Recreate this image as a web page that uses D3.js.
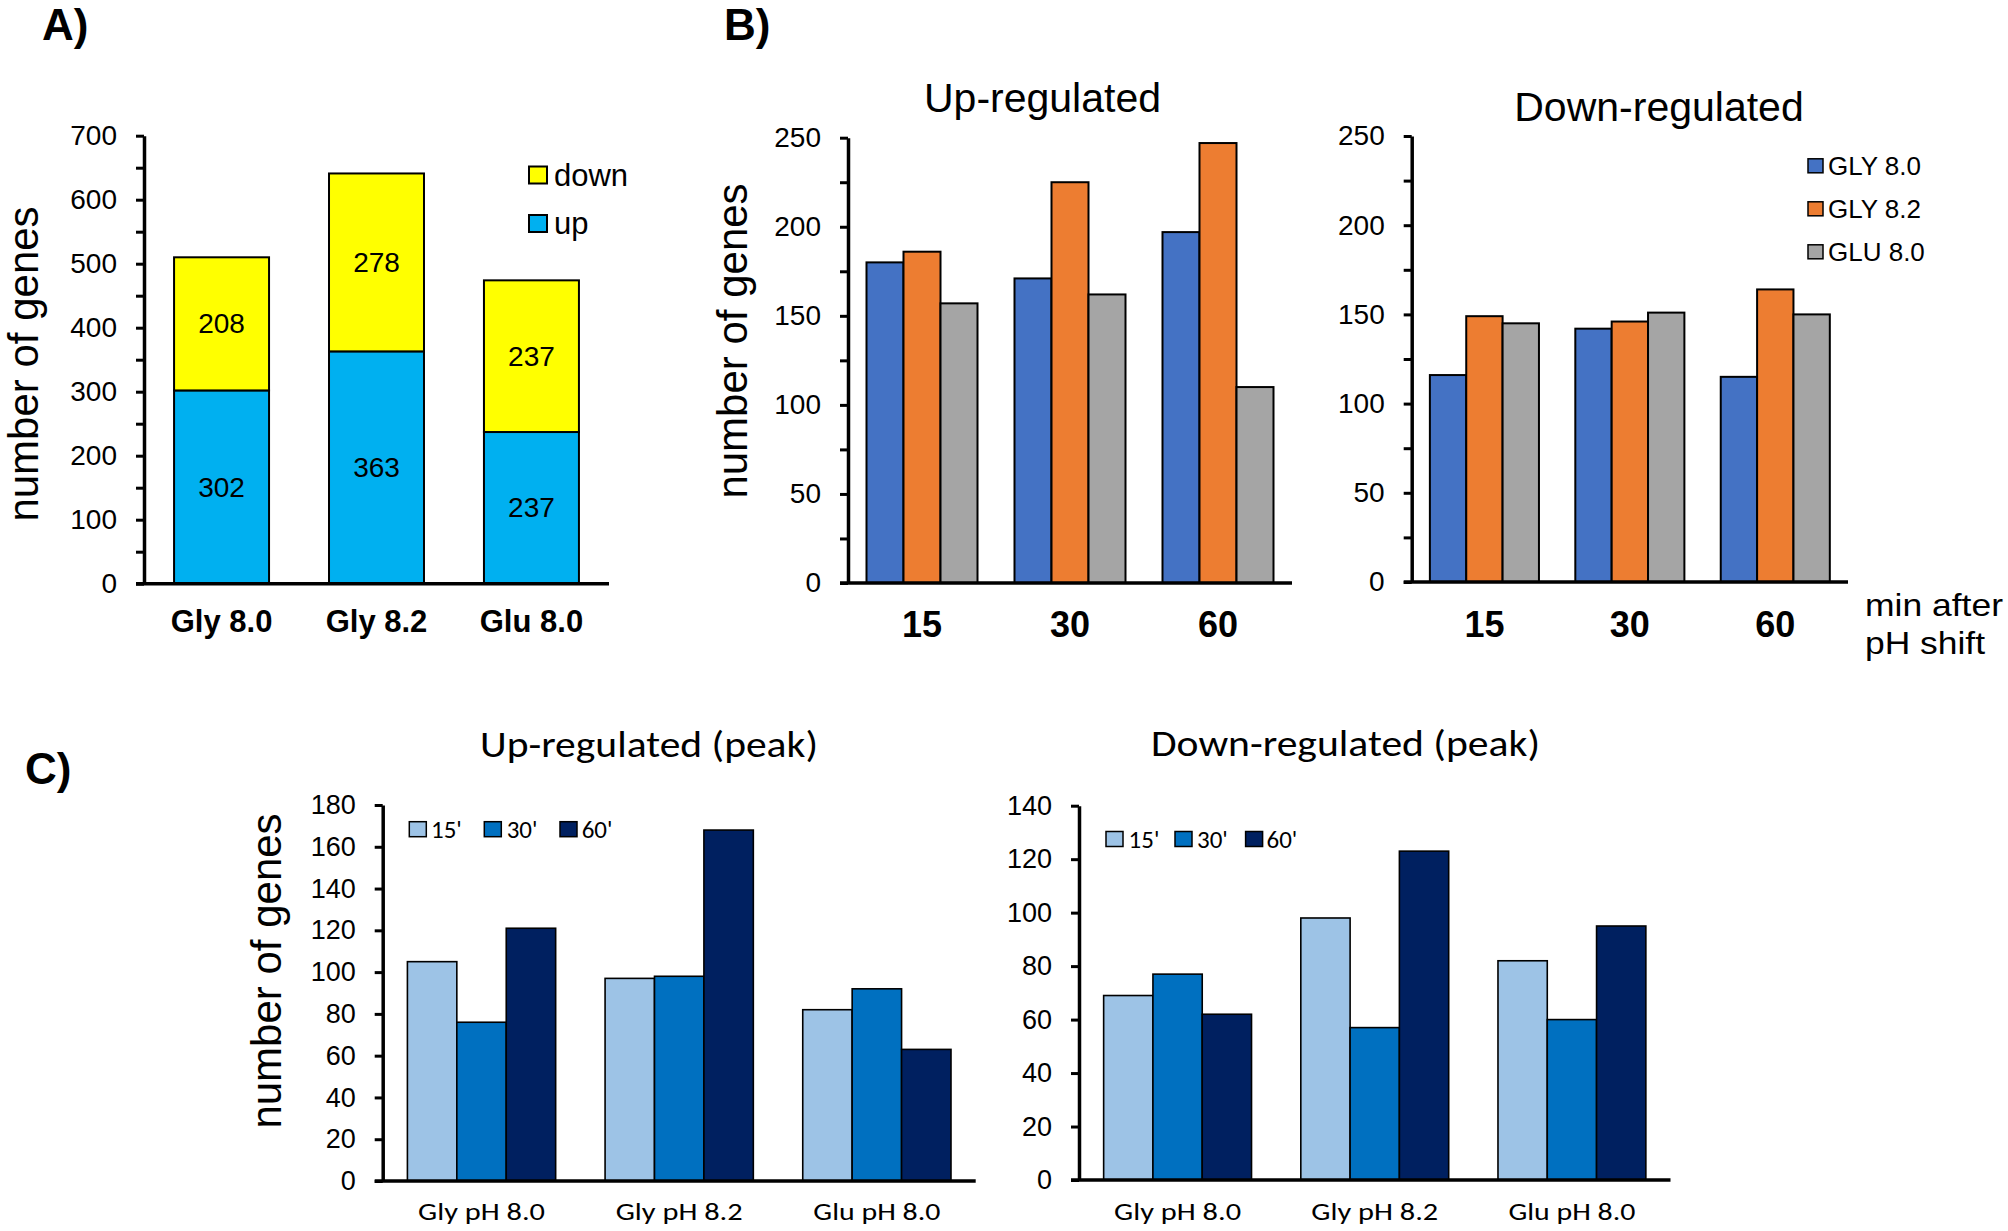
<!DOCTYPE html>
<html><head><meta charset="utf-8">
<script src="https://cdn.jsdelivr.net/npm/d3@7"></script>
<style>
body{margin:0;background:#fff}
svg{display:block}
text{font-family:"Liberation Sans",Arial,sans-serif;fill:#000}
.cal{font-family:"Carlito","Calibri","Lato",sans-serif}
</style>
</head><body>
<svg id="c" width="2008" height="1231"></svg>
<script>
// ---------- DATA ----------
// Panel A
const catsA = ["Gly 8.0", "Gly 8.2", "Glu 8.0"];
const upA = [302, 363, 237];
const downA = [208, 278, 237];
const tickLabelsA = [0, 100, 200, 300, 400, 500, 600, 700];
const legendA = ["down", "up"];

// Panel B
const timesB = ["15", "30", "60"];
const seriesB = ["GLY 8.0", "GLY 8.2", "GLU 8.0"];
const upB_gly80 = [180, 171, 197];
const upB_gly82 = [186, 225, 247];
const upB_glu80 = [157, 162, 110];
const downB_gly80 = [116, 142, 115];
const downB_gly82 = [149, 146, 164];
const downB_glu80 = [145, 151, 150];
const tickLabelsB = [0, 50, 100, 150, 200, 250];

// Panel C
const catsC = ["Gly pH 8.0", "Gly pH 8.2", "Glu pH 8.0"];
const seriesC = ["15'", "30'", "60'"];
const upC_15 = [105, 97, 82];
const upC_30 = [76, 98, 92];
const upC_60 = [121, 168, 63];
const downC_15 = [69, 98, 82];
const downC_30 = [77, 57, 60];
const downC_60 = [62, 123, 95];
const tickLabelsCup = [0, 20, 40, 60, 80, 100, 120, 140, 160, 180];
const tickLabelsCdown = [0, 20, 40, 60, 80, 100, 120, 140];

// ---------- STYLE ----------
const colA = {up: "#00B0F0", down: "#FFFF00"};
const colB = ["#4472C4", "#ED7D31", "#A5A5A5"];
const colC = ["#9DC3E6", "#0070C0", "#002060"];

const svg = d3.select("#c");

function yAxis(g, y, tickVals, labelVals, fs, w) {
  const ax = d3.axisLeft(y).tickValues(tickVals).tickSize(8).tickPadding(19).tickSizeOuter(0)
    .tickFormat(d => labelVals.includes(d) ? String(d) : "");
  g.call(ax);
  g.select(".domain").attr("stroke", "#000").attr("stroke-width", w || 3.5);
  g.selectAll(".tick line").attr("stroke", "#000").attr("stroke-width", 3);
  g.selectAll(".tick text").attr("font-size", fs).attr("fill", "#000")
    .attr("font-family", '"Liberation Sans",Arial,sans-serif');
}

function xLine(x0, x1, y0, w) {
  svg.append("line").attr("x1", x0 - 8).attr("x2", x1).attr("y1", y0).attr("y2", y0)
    .attr("stroke", "#000").attr("stroke-width", w || 3.5);
}

function yLabel(x, y, fs) {
  svg.append("text").attr("transform", `translate(${x},${y}) rotate(-90)`)
    .attr("text-anchor", "middle").attr("font-size", fs).text("number of genes");
}

function grouped(o) {
  const x = d3.scaleBand().domain(o.cats).range([o.x0, o.x1]).paddingInner(0.25).paddingOuter(0.125);
  const xs = d3.scaleBand().domain(d3.range(o.series.length)).range([0, x.bandwidth()]);
  const y = d3.scaleLinear().domain([0, o.max]).range([o.y0, o.yTop]);
  const g = svg.append("g");
  o.series.forEach((vals, si) => {
    g.selectAll(null).data(vals).join("rect")
      .attr("x", (d, i) => x(o.cats[i]) + xs(si))
      .attr("y", d => y(d))
      .attr("width", xs.bandwidth())
      .attr("height", d => o.y0 - y(d))
      .attr("fill", o.colors[si]).attr("stroke", "#000").attr("stroke-width", o.sw || 2);
  });
  yAxis(svg.append("g").attr("transform", `translate(${o.x0},0)`), y,
    d3.range(0, o.max + 0.001, o.minor), o.labels, o.tickFs || 28);
  xLine(o.x0, o.x1, o.y0);
  svg.append("g").selectAll("text").data(o.cats).join("text")
    .attr("class", o.catClass || null)
    .attr("x", d => x(d) + x.bandwidth() / 2).attr("y", o.catY)
    .attr("text-anchor", "middle").attr("font-size", o.catFs)
    .attr("font-weight", o.catBold ? "bold" : "normal")
    .each(function () { if (o.catLen) d3.select(this).attr("textLength", o.catLen).attr("lengthAdjust", "spacingAndGlyphs"); })
    .text(d => d);
  return {x, y};
}

// ---------- PANEL A ----------
(function () {
  const x0 = 144, x1 = 609, y0 = 583.7, yTop = 135.7;
  const x = d3.scaleBand().domain(catsA).range([x0, x1]).paddingInner(0.387).paddingOuter(0.194);
  const y = d3.scaleLinear().domain([0, 700]).range([y0, yTop]);
  const g = svg.append("g");
  g.selectAll(".up").data(upA).join("rect")
    .attr("x", (d, i) => x(catsA[i])).attr("width", x.bandwidth())
    .attr("y", d => y(d)).attr("height", d => y0 - y(d))
    .attr("fill", colA.up).attr("stroke", "#000").attr("stroke-width", 2);
  g.selectAll(".down").data(downA).join("rect")
    .attr("x", (d, i) => x(catsA[i])).attr("width", x.bandwidth())
    .attr("y", (d, i) => y(upA[i] + d)).attr("height", (d, i) => y(upA[i]) - y(upA[i] + d))
    .attr("fill", colA.down).attr("stroke", "#000").attr("stroke-width", 2);
  g.selectAll(".lu").data(upA).join("text")
    .attr("x", (d, i) => x(catsA[i]) + x.bandwidth() / 2).attr("y", d => y(d / 2))
    .attr("text-anchor", "middle").attr("dominant-baseline", "central").attr("font-size", 28).text(d => d);
  g.selectAll(".ld").data(downA).join("text")
    .attr("x", (d, i) => x(catsA[i]) + x.bandwidth() / 2).attr("y", (d, i) => y(upA[i] + d / 2))
    .attr("text-anchor", "middle").attr("dominant-baseline", "central").attr("font-size", 28).text(d => d);
  yAxis(svg.append("g").attr("transform", `translate(${x0},0)`), y, d3.range(0, 701, 50), tickLabelsA, 28);
  xLine(x0, x1, y0);
  svg.append("g").selectAll("text").data(catsA).join("text")
    .attr("x", d => x(d) + x.bandwidth() / 2).attr("y", 631.7)
    .attr("text-anchor", "middle").attr("font-size", 31).attr("font-weight", "bold").text(d => d);
  const lg = [{k: legendA[0], yc: 175}, {k: legendA[1], yc: 223.5}];
  lg.forEach(l => {
    svg.append("rect").attr("x", 529).attr("y", l.yc - 8.5).attr("width", 18).attr("height", 17)
      .attr("fill", colA[l.k]).attr("stroke", "#000").attr("stroke-width", 2);
    svg.append("text").attr("x", 554).attr("y", l.yc).attr("dominant-baseline", "central")
      .attr("font-size", 31).text(l.k);
  });
  yLabel(38, 364, 42);
  svg.append("text").attr("x", 42).attr("y", 40).attr("font-size", 44).attr("font-weight", "bold").text("A)");
})();

// ---------- PANEL B ----------
svg.append("text").attr("x", 724).attr("y", 40).attr("font-size", 44).attr("font-weight", "bold").text("B)");
grouped({cats: timesB, series: [upB_gly80, upB_gly82, upB_glu80], colors: colB,
  x0: 848, x1: 1292, y0: 583, yTop: 137.7, max: 250, minor: 25, labels: tickLabelsB,
  catY: 636.7, catFs: 36, catBold: true});
svg.append("text").attr("x", 1042.5).attr("y", 111.7).attr("text-anchor", "middle")
  .attr("font-size", 41).text("Up-regulated");
yLabel(747, 341, 42);

grouped({cats: timesB, series: [downB_gly80, downB_gly82, downB_glu80], colors: colB,
  x0: 1411.7, x1: 1848, y0: 582, yTop: 136, max: 250, minor: 25, labels: tickLabelsB,
  catY: 636.7, catFs: 36, catBold: true});
svg.append("text").attr("x", 1659).attr("y", 120.5).attr("text-anchor", "middle")
  .attr("font-size", 41).text("Down-regulated");
[165.8, 208.8, 251.8].forEach((yc, i) => {
  svg.append("rect").attr("x", 1808).attr("y", yc - 7).attr("width", 15).attr("height", 14)
    .attr("fill", colB[i]).attr("stroke", "#000").attr("stroke-width", 1.5);
  svg.append("text").attr("x", 1828).attr("y", yc).attr("dominant-baseline", "central")
    .attr("font-size", 26).text(seriesB[i]);
});
svg.append("text").attr("x", 1865).attr("y", 616).attr("font-size", 32)
  .attr("textLength", 138).attr("lengthAdjust", "spacingAndGlyphs").text("min after");
svg.append("text").attr("x", 1865).attr("y", 654).attr("font-size", 32)
  .attr("textLength", 120).attr("lengthAdjust", "spacingAndGlyphs").text("pH shift");

// ---------- PANEL C ----------
svg.append("text").attr("x", 25).attr("y", 784).attr("font-size", 44).attr("font-weight", "bold").text("C)");
grouped({cats: catsC, series: [upC_15, upC_30, upC_60], colors: colC,
  x0: 382.7, x1: 975.7, y0: 1181, yTop: 805, max: 180, minor: 20, labels: tickLabelsCup,
  catY: 1220, catFs: 25, catClass: "cal", catLen: 127, sw: 1.6, tickFs: 27});
svg.append("text").attr("class", "cal").attr("x", 480).attr("y", 756.7)
  .attr("font-size", 37).attr("textLength", 338).attr("lengthAdjust", "spacingAndGlyphs")
  .text("Up-regulated (peak)");
yLabel(281, 971, 42);

grouped({cats: catsC, series: [downC_15, downC_30, downC_60], colors: colC,
  x0: 1079, x1: 1670.5, y0: 1180, yTop: 805.7, max: 140, minor: 20, labels: tickLabelsCdown,
  catY: 1220, catFs: 25, catClass: "cal", catLen: 127, sw: 1.6, tickFs: 27});
svg.append("text").attr("class", "cal").attr("x", 1151).attr("y", 756)
  .attr("font-size", 37).attr("textLength", 389).attr("lengthAdjust", "spacingAndGlyphs")
  .text("Down-regulated (peak)");

function legendC(sqX, txX, yc) {
  sqX.forEach((sx, i) => {
    svg.append("rect").attr("x", sx).attr("y", yc - 7.5).attr("width", 17).attr("height", 15)
      .attr("fill", colC[i]).attr("stroke", "#000").attr("stroke-width", 1.5);
    svg.append("text").attr("class", "cal").attr("x", txX[i]).attr("y", yc)
      .attr("dominant-baseline", "central").attr("font-size", 25).text(seriesC[i]);
  });
}
legendC([409.3, 484.3, 560], [431, 506.7, 581.7], 829.2);
legendC([1106, 1175, 1245.6], [1128.6, 1197, 1266.5], 839);
</script>
</body></html>
